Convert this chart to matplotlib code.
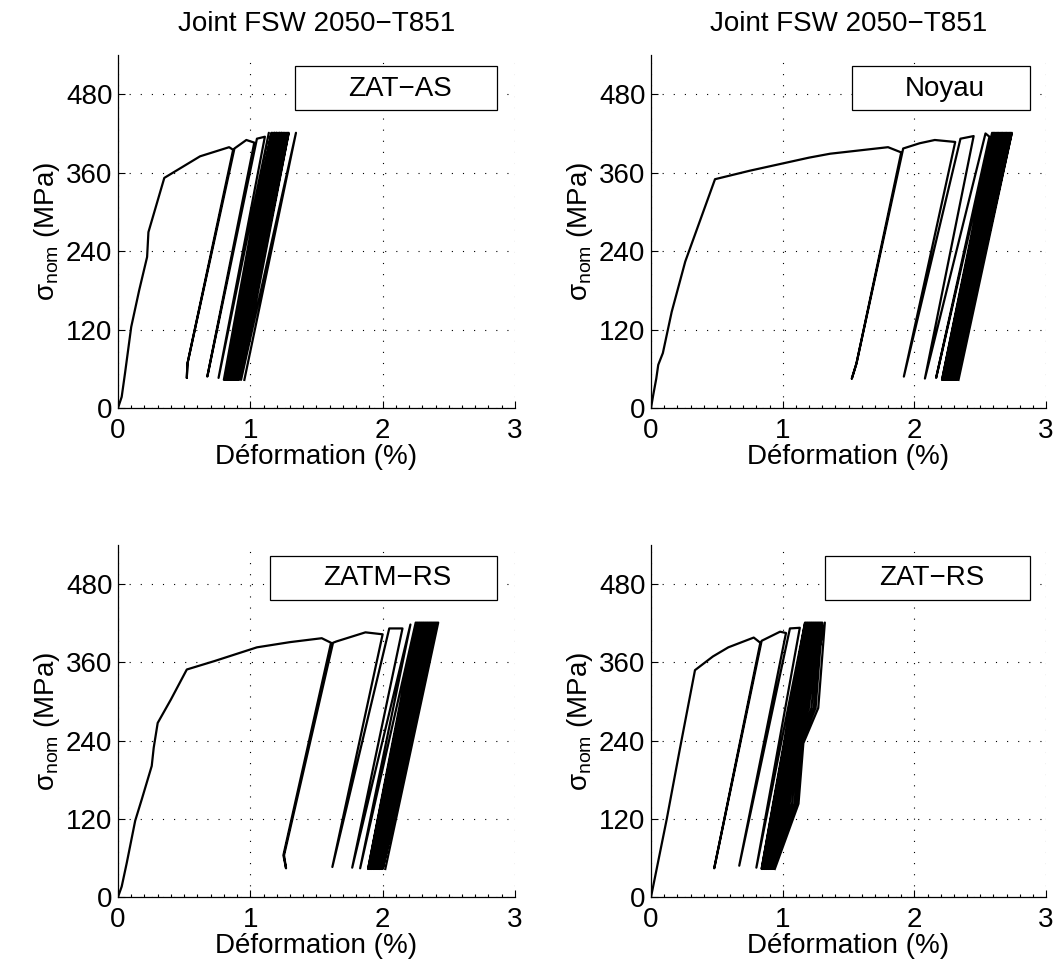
import matplotlib.pyplot as plt
from matplotlib.patches import Rectangle
from matplotlib.ticker import MultipleLocator

plt.rcParams['font.family'] = ['Liberation Sans', 'DejaVu Sans']
plt.rcParams['mathtext.fontset'] = 'custom'
plt.rcParams['mathtext.rm'] = 'Liberation Sans'
plt.rcParams['mathtext.it'] = 'Liberation Sans:italic'

# cyclic tension curves, strain in %, stress in MPa

# ZAT-AS : first loading + first unload/reload cycles
zat_as_x = [0, 0.028, 0.053, 0.10, 0.16, 0.22, 0.23, 0.35, 0.62, 0.84, 0.87,
            0.525, 0.52, 0.525, 0.88, 0.97, 1.03, 0.675, 1.05, 1.11, 0.76]
zat_as_y = [0, 17, 53, 124, 180, 231, 269, 352, 385, 399, 395,
            68, 46, 68, 397, 410, 406, 48, 412, 415, 46]
# later cycles: reload peak then unload valley
zat_as_peaks = [1.14, 1.16, 1.17, 1.18, 1.185, 1.195, 1.20, 1.21, 1.22, 1.225,
                1.235, 1.24, 1.25, 1.26, 1.27, 1.28, 1.29, 1.345]
zat_as_valleys = [0.80, 0.81, 0.815, 0.825, 0.83, 0.84, 0.845, 0.855, 0.86, 0.87,
                  0.875, 0.885, 0.89, 0.90, 0.905, 0.915, 0.93, 0.955]

# Noyau
noyau_x = [0, 0.017, 0.04, 0.055, 0.09, 0.157, 0.26, 0.486, 0.75, 1.2, 1.36, 1.80, 1.90,
           1.56, 1.525, 1.56, 1.915, 2.04, 2.155, 2.31, 1.92, 2.35, 2.45, 2.08,
           2.54, 2.57, 2.165]
noyau_y = [0, 20, 45, 66, 84, 147, 224, 350, 363, 383, 389, 399, 391,
           68, 45, 68, 397, 405, 410, 407, 48, 412, 416, 45,
           420, 415, 46]
noyau_peaks = [2.59, 2.60, 2.61, 2.62, 2.63, 2.64, 2.65, 2.66, 2.67, 2.68,
               2.69, 2.70, 2.71, 2.72, 2.73, 2.74]
noyau_valleys = [2.21, 2.215, 2.225, 2.23, 2.24, 2.245, 2.255, 2.26, 2.27, 2.28,
                 2.285, 2.295, 2.30, 2.31, 2.32, 2.335]

# ZATM-RS
zatm_rs_x = [0, 0.028, 0.066, 0.13, 0.18, 0.255, 0.27, 0.30, 0.40, 0.52, 0.73, 1.05,
             1.30, 1.54, 1.61, 1.25, 1.27, 1.255, 1.625, 1.65, 1.87, 2.0, 1.62,
             2.05, 2.15, 1.77, 2.21, 1.83]
zatm_rs_y = [0, 16, 52, 117, 150, 201, 229, 267, 303, 349, 362, 383,
             391, 397, 390, 64, 44, 64, 390, 392, 406, 403, 46,
             412, 412, 45, 418, 44]
zatm_rs_peaks = [2.25, 2.26, 2.27, 2.28, 2.29, 2.30, 2.31, 2.32, 2.33,
                 2.34, 2.35, 2.36, 2.37, 2.38, 2.39, 2.40, 2.41, 2.42]
zatm_rs_valleys = [1.89, 1.895, 1.90, 1.91, 1.915, 1.92, 1.93, 1.935, 1.94,
                   1.95, 1.955, 1.96, 1.97, 1.975, 1.98, 1.99, 2.0, 2.02]

# ZAT-RS
zat_rs_x = [0, 0.05, 0.12, 0.22, 0.334, 0.47, 0.587, 0.78, 0.83, 0.48,
            0.84, 0.98, 1.025, 0.67, 1.055, 1.13, 0.80]
zat_rs_y = [0, 50, 120, 228, 348, 369, 383, 398, 390, 44,
            393, 407, 405, 48, 412, 413, 45]
zat_rs_peaks = [1.17, 1.18, 1.19, 1.20, 1.21, 1.22, 1.23, 1.24, 1.25, 1.26,
                1.27, 1.28, 1.29, 1.30, 1.32]
zat_rs_valleys = [0.84, 0.845, 0.85, 0.86, 0.865, 0.87, 0.875, 0.88, 0.89, 0.895,
                  0.90, 0.91, 0.92, 0.93, 0.94]
# the last unloadings are bent: strain at 290, 236 and 143 MPa
zat_rs_kink_levels = [290, 236, 143]
zat_rs_k290 = [1.055, 1.064, 1.072, 1.082, 1.098, 1.115, 1.132, 1.148, 1.166, 1.182,
               1.199, 1.218, 1.236, 1.250, 1.27]
zat_rs_k236 = [1.009, 1.016, 1.024, 1.034, 1.043, 1.054, 1.063, 1.073, 1.086, 1.096,
               1.105, 1.117, 1.130, 1.141, 1.157]
zat_rs_k143 = [0.927, 0.934, 0.940, 0.950, 0.964, 0.979, 0.993, 1.007, 1.025, 1.039,
               1.053, 1.071, 1.089, 1.103, 1.12]

sigma_max = 421
sigma_min = 43

zones = ['ZAT\u2212AS', 'Noyau', 'ZATM\u2212RS', 'ZAT\u2212RS']
title = 'Joint FSW 2050\u2212T851'
fs = 20


def build_path(px, py, peaks, valleys, kinks=None):
    # explicit start, then reload to each peak and unload to each valley
    x = list(px)
    y = list(py)
    for i in range(len(peaks)):
        x.append(peaks[i])
        y.append(sigma_max)
        if kinks is not None:
            for lev, kx in zip(zat_rs_kink_levels, kinks):
                x.append(kx[i])
                y.append(lev)
        x.append(valleys[i])
        y.append(sigma_min)
    return x, y


def draw_panel(ax, x, y, label, box, with_title):
    ax.plot(x, y, color='k', lw=1.6)
    ax.set_xlim(0, 3)
    ax.set_ylim(0, 540)
    ax.set_xticks([0, 1, 2, 3])
    ax.set_yticks([0, 120, 240, 360, 480])
    ax.xaxis.set_minor_locator(MultipleLocator(0.1))
    ax.spines['top'].set_visible(False)
    ax.spines['right'].set_visible(False)
    for s in ['left', 'bottom']:
        ax.spines[s].set_linewidth(0.9)
    ax.tick_params(which='both', direction='in', labelsize=fs, width=0.8)
    ax.tick_params(which='major', length=5)
    ax.tick_params(which='minor', length=2.5)
    ax.tick_params(axis='x', pad=7)
    ax.tick_params(axis='y', pad=4)
    ax.grid(True, which='major', linestyle=(0, (1, 9)), color='k', lw=0.8)
    ax.set_axisbelow(True)
    ax.set_xlabel('D\u00e9formation (%)', fontsize=fs, labelpad=0)
    ax.set_ylabel('\u03c3$_{\\rm nom}$ (MPa)', fontsize=fs, labelpad=3)
    if with_title:
        ax.set_title(title, fontsize=fs, pad=17)
    # legend-like box with the zone name
    x0, x1 = box
    ax.add_patch(Rectangle((x0, 0.844), x1 - x0, 0.126, transform=ax.transAxes,
                           facecolor='white', edgecolor='k', lw=0.9, zorder=5))
    ax.text((x0 + x1) / 2 + 0.01, 0.905, label, transform=ax.transAxes,
            fontsize=fs, ha='center', va='center', zorder=6)


fig = plt.figure(figsize=(10.62, 9.67), dpi=100)
ax1 = fig.add_axes([0.1111, 0.5781, 0.3738, 0.365])
ax2 = fig.add_axes([0.6130, 0.5781, 0.3720, 0.365])
ax3 = fig.add_axes([0.1111, 0.0724, 0.3738, 0.364])
ax4 = fig.add_axes([0.6130, 0.0724, 0.3720, 0.364])

x, y = build_path(zat_as_x, zat_as_y, zat_as_peaks, zat_as_valleys)
draw_panel(ax1, x, y, zones[0], (0.446, 0.955), True)

x, y = build_path(noyau_x, noyau_y, noyau_peaks, noyau_valleys)
draw_panel(ax2, x, y, zones[1], (0.509, 0.960), True)

x, y = build_path(zatm_rs_x, zatm_rs_y, zatm_rs_peaks, zatm_rs_valleys)
draw_panel(ax3, x, y, zones[2], (0.383, 0.955), False)

x, y = build_path(zat_rs_x, zat_rs_y, zat_rs_peaks, zat_rs_valleys,
                  kinks=[zat_rs_k290, zat_rs_k236, zat_rs_k143])
draw_panel(ax4, x, y, zones[3], (0.440, 0.960), False)

fig.savefig('out.png', dpi=100)
